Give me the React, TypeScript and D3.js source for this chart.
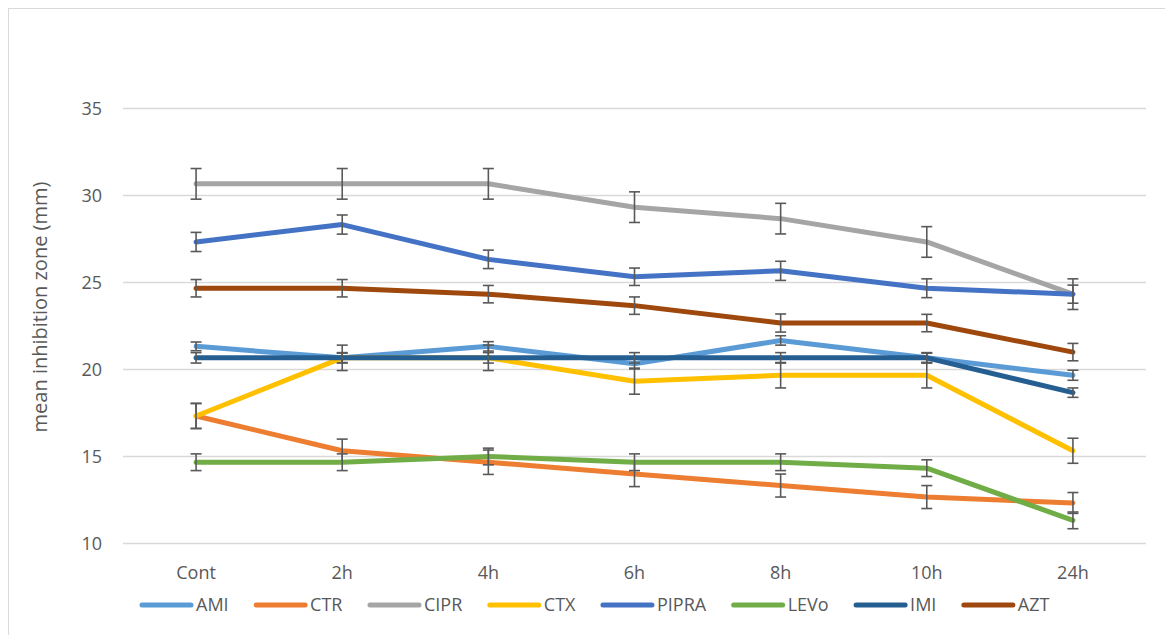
import React, { useEffect, useRef } from 'react'
import * as d3 from 'd3'

const categories = ['Cont', '2h', '4h', '6h', '8h', '10h', '24h']
const yTicks = [10, 15, 20, 25, 30, 35]

const seriesNames = ['AMI', 'CTR', 'CIPR', 'CTX', 'PIPRA', 'LEVo', 'IMI', 'AZT']
const seriesColors = ['#5B9BD5', '#ED7D31', '#A5A5A5', '#FFC000', '#4472C4', '#70AD47', '#255E91', '#9E480E']

const ami = [21.33, 20.67, 21.33, 20.33, 21.67, 20.67, 19.67]
const ctr = [17.33, 15.33, 14.67, 14.0, 13.33, 12.67, 12.33]
const cipr = [30.67, 30.67, 30.67, 29.33, 28.67, 27.33, 24.33]
const ctx = [17.33, 20.67, 20.67, 19.33, 19.67, 19.67, 15.33]
const pipra = [27.33, 28.33, 26.33, 25.33, 25.67, 24.67, 24.33]
const levo = [14.67, 14.67, 15.0, 14.67, 14.67, 14.33, 11.33]
const imi = [20.67, 20.67, 20.67, 20.67, 20.67, 20.67, 18.67]
const azt = [24.67, 24.67, 24.33, 23.67, 22.67, 22.67, 21.0]

const amiErr = [0.25, 0.27, 0.27, 0.3, 0.27, 0.27, 0.29]
const ctrErr = [0.72, 0.67, 0.7, 0.73, 0.66, 0.66, 0.6]
const ciprErr = [0.88, 0.88, 0.88, 0.88, 0.88, 0.88, 0.88]
const ctxErr = [0.72, 0.73, 0.73, 0.75, 0.73, 0.73, 0.72]
const pipraErr = [0.55, 0.55, 0.53, 0.5, 0.55, 0.54, 0.52]
const levoErr = [0.48, 0.48, 0.48, 0.48, 0.48, 0.48, 0.48]
const imiErr = [0.3, 0.3, 0.3, 0.3, 0.3, 0.3, 0.27]
const aztErr = [0.5, 0.5, 0.5, 0.5, 0.52, 0.5, 0.5]

const seriesValues = [ami, ctr, cipr, ctx, pipra, levo, imi, azt]
const seriesErrors = [amiErr, ctrErr, ciprErr, ctxErr, pipraErr, levoErr, imiErr, aztErr]

const FONT = '"Open Sans", "Noto Sans", sans-serif'

export default function App() {
  const svgRef = useRef<SVGSVGElement>(null)

  useEffect(() => {
    document.body.style.margin = '0'
    const svg = d3.select(svgRef.current)
    svg.selectAll('*').remove()

    const width = 1165
    const height = 635
    const plotLeft = 123
    const plotRight = 1146
    const plotTop = 108.5
    const plotBottom = 543.5

    svg.attr('width', width).attr('height', height)

    // chart area border
    svg.append('rect')
      .attr('x', 8.5).attr('y', 8.5)
      .attr('width', 1300).attr('height', 800)
      .attr('fill', '#fff')
      .attr('stroke', '#d9d9d9')
      .attr('stroke-width', 1)

    const x = d3.scaleBand().domain(categories).range([plotLeft, plotRight])
    const y = d3.scaleLinear().domain([10, 35]).range([plotBottom, plotTop])
    const cx = (c: string) => (x(c) as number) + x.bandwidth() / 2

    // gridlines
    svg.append('g')
      .selectAll('line')
      .data(yTicks)
      .join('line')
      .attr('x1', plotLeft).attr('x2', plotRight)
      .attr('y1', d => y(d)).attr('y2', d => y(d))
      .attr('stroke', '#d9d9d9')
      .attr('stroke-width', 1.3)

    // y tick labels
    svg.append('g')
      .selectAll('text')
      .data(yTicks)
      .join('text')
      .attr('x', 102)
      .attr('y', d => y(d))
      .attr('dy', '0.35em')
      .attr('text-anchor', 'end')
      .style('font-family', FONT)
      .style('font-size', '18px')
      .style('fill', '#595959')
      .text(d => d)

    // x labels
    svg.append('g')
      .selectAll('text')
      .data(categories)
      .join('text')
      .attr('x', d => cx(d))
      .attr('y', 573)
      .attr('dy', '0.35em')
      .attr('text-anchor', 'middle')
      .style('font-family', FONT)
      .style('font-size', '18px')
      .style('fill', '#595959')
      .text(d => d)

    // y axis title
    svg.append('text')
      .attr('transform', `translate(40, 307) rotate(-90)`)
      .attr('dy', '0.35em')
      .attr('text-anchor', 'middle')
      .style('font-family', FONT)
      .style('font-size', '20px')
      .style('fill', '#595959')
      .text('mean inhibition zone (mm)')

    const line = d3.line<number>()
      .x((_, i) => cx(categories[i]))
      .y(d => y(d))

    const capHalf = 5.5
    seriesNames.forEach((name, si) => {
      const vals = seriesValues[si]
      const errs = seriesErrors[si]
      const g = svg.append('g')
      g.append('path')
        .attr('d', line(vals))
        .attr('fill', 'none')
        .attr('stroke', seriesColors[si])
        .attr('stroke-width', 5)
        .attr('stroke-linecap', 'round')
        .attr('stroke-linejoin', 'round')

      const eb = g.append('g')
        .attr('stroke', '#595959')
        .attr('stroke-width', 1.6)
      vals.forEach((v, i) => {
        const px = cx(categories[i])
        const top = y(v + errs[i])
        const bot = y(v - errs[i])
        eb.append('line').attr('x1', px).attr('x2', px).attr('y1', top).attr('y2', bot)
        eb.append('line').attr('x1', px - capHalf).attr('x2', px + capHalf).attr('y1', top).attr('y2', top)
        eb.append('line').attr('x1', px - capHalf).attr('x2', px + capHalf).attr('y1', bot).attr('y2', bot)
      })
    })

    // legend
    const legend = svg.append('g')
    let lx = 140
    const ly = 605
    const lineLen = 53
    seriesNames.forEach((name, si) => {
      legend.append('line')
        .attr('x1', lx + 2).attr('x2', lx + lineLen - 2)
        .attr('y1', ly).attr('y2', ly)
        .attr('stroke', seriesColors[si])
        .attr('stroke-width', 5)
        .attr('stroke-linecap', 'round')
      const t = legend.append('text')
        .attr('x', lx + lineLen + 3)
        .attr('y', ly)
        .attr('dy', '0.35em')
        .style('font-family', FONT)
        .style('font-size', '18px')
        .style('fill', '#595959')
        .text(name)
      const w = (t.node() as SVGTextElement).getComputedTextLength()
      lx += lineLen + 3 + w + 25.5
    })
  }, [])

  return <svg ref={svgRef} style={{ display: 'block' }} />
}
